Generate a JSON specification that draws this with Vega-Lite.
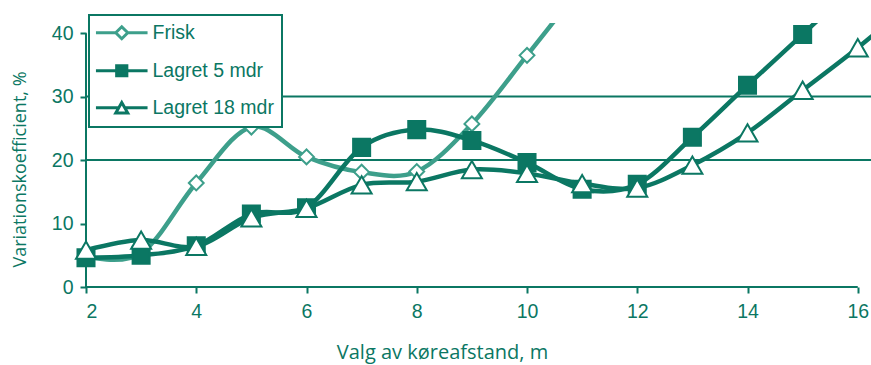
{
  "$schema": "https://vega.github.io/schema/vega-lite/v6.json",
  "width": 785,
  "height": 264,
  "autosize": {"type": "none"},
  "padding": {"left": 86, "top": 23, "right": 0, "bottom": 78},
  "background": "white",
  "config": {
    "view": {"stroke": null},
    "axis": {
      "labelFont": "Liberation Sans",
      "labelFontSize": 19.5,
      "labelColor": "#0b7763",
      "titleFont": "Open Sans",
      "titleFontSize": 18,
      "titleFontWeight": "normal",
      "titleColor": "#0b7763",
      "tickColor": "#0b7763",
      "tickWidth": 2,
      "tickSize": 6,
      "grid": false,
      "domain": false
    },
    "legend": {"strokeWidth": 2}
  },
  "datasets": {
    "cv": [
      {"x": 2, "v": 4.8, "s": "Frisk"},
      {"x": 3, "v": 5.3, "s": "Frisk"},
      {"x": 4, "v": 16.4, "s": "Frisk"},
      {"x": 5, "v": 25.2, "s": "Frisk"},
      {"x": 6, "v": 20.5, "s": "Frisk"},
      {"x": 7, "v": 18.1, "s": "Frisk"},
      {"x": 8, "v": 18.2, "s": "Frisk"},
      {"x": 9, "v": 25.7, "s": "Frisk"},
      {"x": 10, "v": 36.5, "s": "Frisk"},
      {"x": 11, "v": 47.5, "s": "Frisk"},
      {"x": 2, "v": 4.6, "s": "Lagret 5 mdr"},
      {"x": 3, "v": 5.0, "s": "Lagret 5 mdr"},
      {"x": 4, "v": 6.5, "s": "Lagret 5 mdr"},
      {"x": 5, "v": 11.5, "s": "Lagret 5 mdr"},
      {"x": 6, "v": 12.5, "s": "Lagret 5 mdr"},
      {"x": 7, "v": 22.0, "s": "Lagret 5 mdr"},
      {"x": 8, "v": 24.8, "s": "Lagret 5 mdr"},
      {"x": 9, "v": 23.1, "s": "Lagret 5 mdr"},
      {"x": 10, "v": 19.6, "s": "Lagret 5 mdr"},
      {"x": 11, "v": 15.4, "s": "Lagret 5 mdr"},
      {"x": 12, "v": 16.2, "s": "Lagret 5 mdr"},
      {"x": 13, "v": 23.6, "s": "Lagret 5 mdr"},
      {"x": 14, "v": 31.8, "s": "Lagret 5 mdr"},
      {"x": 15, "v": 39.8, "s": "Lagret 5 mdr"},
      {"x": 16, "v": 48.0, "s": "Lagret 5 mdr"},
      {"x": 2, "v": 5.8, "s": "Lagret 18 mdr"},
      {"x": 3, "v": 7.4, "s": "Lagret 18 mdr"},
      {"x": 4, "v": 6.4, "s": "Lagret 18 mdr"},
      {"x": 5, "v": 10.9, "s": "Lagret 18 mdr"},
      {"x": 6, "v": 12.4, "s": "Lagret 18 mdr"},
      {"x": 7, "v": 16.1, "s": "Lagret 18 mdr"},
      {"x": 8, "v": 16.6, "s": "Lagret 18 mdr"},
      {"x": 9, "v": 18.5, "s": "Lagret 18 mdr"},
      {"x": 10, "v": 17.9, "s": "Lagret 18 mdr"},
      {"x": 11, "v": 16.3, "s": "Lagret 18 mdr"},
      {"x": 12, "v": 15.6, "s": "Lagret 18 mdr"},
      {"x": 13, "v": 19.2, "s": "Lagret 18 mdr"},
      {"x": 14, "v": 24.3, "s": "Lagret 18 mdr"},
      {"x": 15, "v": 31.0, "s": "Lagret 18 mdr"},
      {"x": 16, "v": 37.7, "s": "Lagret 18 mdr"},
      {"x": 17, "v": 45.0, "s": "Lagret 18 mdr"}
    ],
    "gridlines": [{"g": 20}, {"g": 30}],
    "axislines": [
      {"x": 2, "x2": 16, "y": 0, "y2": 0},
      {"x": 2, "x2": 2, "y": 0, "y2": 40}
    ]
  },
  "layer": [
    {
      "data": {"name": "gridlines"},
      "mark": {"type": "rule", "color": "#0b7763", "strokeWidth": 2},
      "encoding": {
        "y": {"field": "g", "type": "quantitative", "scale": {"domain": [0, 41.6], "nice": false, "zero": true},
              "axis": {"values": [0, 10, 20, 30, 40], "title": "Variationskoefficient, %", "labelPadding": 7,
                       "titleX": -66, "titleY": 146, "titleBaseline": "middle", "titleAngle": -90}}
      }
    },
    {
      "data": {"name": "axislines"},
      "mark": {"type": "rule", "color": "#0b7763", "strokeWidth": 2},
      "encoding": {
        "x": {"field": "x", "type": "quantitative"},
        "x2": {"field": "x2"},
        "y": {"field": "y", "type": "quantitative"},
        "y2": {"field": "y2"}
      }
    },
    {
      "data": {"name": "cv"},
      "mark": {"type": "line", "interpolate": "cardinal", "clip": true},
      "encoding": {
        "x": {"field": "x", "type": "quantitative",
              "scale": {"domain": [2, 16.24], "nice": false, "zero": false},
              "axis": {"values": [2, 4, 6, 8, 10, 12, 14, 16], "title": "Valg av køreafstand, m", "labelPadding": 9,
                       "titleFontSize": 20,
                       "titleX": 356, "titleY": 65, "titleBaseline": "middle", "titleAnchor": "start", "titleAlign": "center"}},
        "y": {"field": "v", "type": "quantitative"},
        "stroke": {"field": "s", "type": "nominal",
                   "scale": {"domain": ["Frisk", "Lagret 5 mdr", "Lagret 18 mdr"], "range": ["#3d9f8b", "#0b7763", "#0b7763"]}},
        "strokeWidth": {"field": "s", "type": "nominal",
                        "scale": {"domain": ["Lagret 18 mdr", "Lagret 5 mdr", "Frisk"], "range": [4.5, 4.5, 3.5]},
                        "legend": null},
        "detail": {"field": "s"}
      }
    },
    {
      "data": {"name": "cv"},
      "transform": [{"filter": "datum.s === 'Frisk' && datum.v <= 41"}],
      "mark": {"type": "point", "shape": "diamond", "filled": true, "fill": "white", "stroke": "#3d9f8b", "strokeWidth": 2, "size": 220, "opacity": 1},
      "encoding": {
        "x": {"field": "x", "type": "quantitative"},
        "y": {"field": "v", "type": "quantitative"}
      }
    },
    {
      "data": {"name": "cv"},
      "transform": [{"filter": "datum.s === 'Lagret 5 mdr' && datum.x <= 16 && datum.v <= 41"}],
      "mark": {"type": "point", "shape": "square", "filled": true, "fill": "#0b7763", "stroke": "#0b7763", "strokeWidth": 2, "size": 290, "opacity": 1},
      "encoding": {
        "x": {"field": "x", "type": "quantitative"},
        "y": {"field": "v", "type": "quantitative"}
      }
    },
    {
      "data": {"name": "cv"},
      "transform": [{"filter": "datum.s === 'Lagret 18 mdr' && datum.x <= 16 && datum.v <= 41"}],
      "mark": {"type": "point", "shape": "triangle-up", "filled": true, "fill": "white", "stroke": "#0b7763", "strokeWidth": 2, "size": 400, "opacity": 1},
      "encoding": {
        "x": {"field": "x", "type": "quantitative"},
        "y": {"field": "v", "type": "quantitative"}
      }
    },
    {
      "data": {"name": "cv"},
      "transform": [{"filter": "datum.x < 0"}],
      "mark": {"type": "point", "filled": true, "size": 144, "strokeWidth": 3, "opacity": 1},
      "encoding": {
        "x": {"field": "x", "type": "quantitative"},
        "y": {"field": "v", "type": "quantitative"},
        "stroke": {"field": "s", "type": "nominal"},
        "fill": {"field": "s", "type": "nominal",
                 "scale": {"domain": ["Frisk", "Lagret 5 mdr", "Lagret 18 mdr"], "range": ["white", "#0b7763", "white"]}},
        "shape": {"field": "s", "type": "nominal",
                  "scale": {"domain": ["Frisk", "Lagret 5 mdr", "Lagret 18 mdr"],
                            "range": ["M-4.3,0H-1M1,0H4.3M0,-1L1,0L0,1L-1,0Z",
                                      "M-4.3,0H4.3M-0.85,-0.85H0.85V0.85H-0.85Z",
                                      "M-4.3,0H-0.5M0.5,0H4.3M0,-0.87L1,0.87H-1Z"]},
                  "legend": {
                    "title": null,
                    "orient": "none",
                    "legendX": 3,
                    "legendY": -8,
                    "padding": 8,
                    "rowPadding": 14,
                    "strokeColor": "#0b7763",
                    "fillColor": "white",
                    "symbolSize": 144,
                    "symbolStrokeWidth": 3,
                    "symbolOpacity": 1,
                    "symbolOffset": 15,
                    "labelOffset": 21,
                    "labelFont": "Liberation Sans",
                    "labelFontSize": 19.5,
                    "labelColor": "#0b7763",
                    "labelLimit": 300
                  }}
      }
    }
  ]
}
